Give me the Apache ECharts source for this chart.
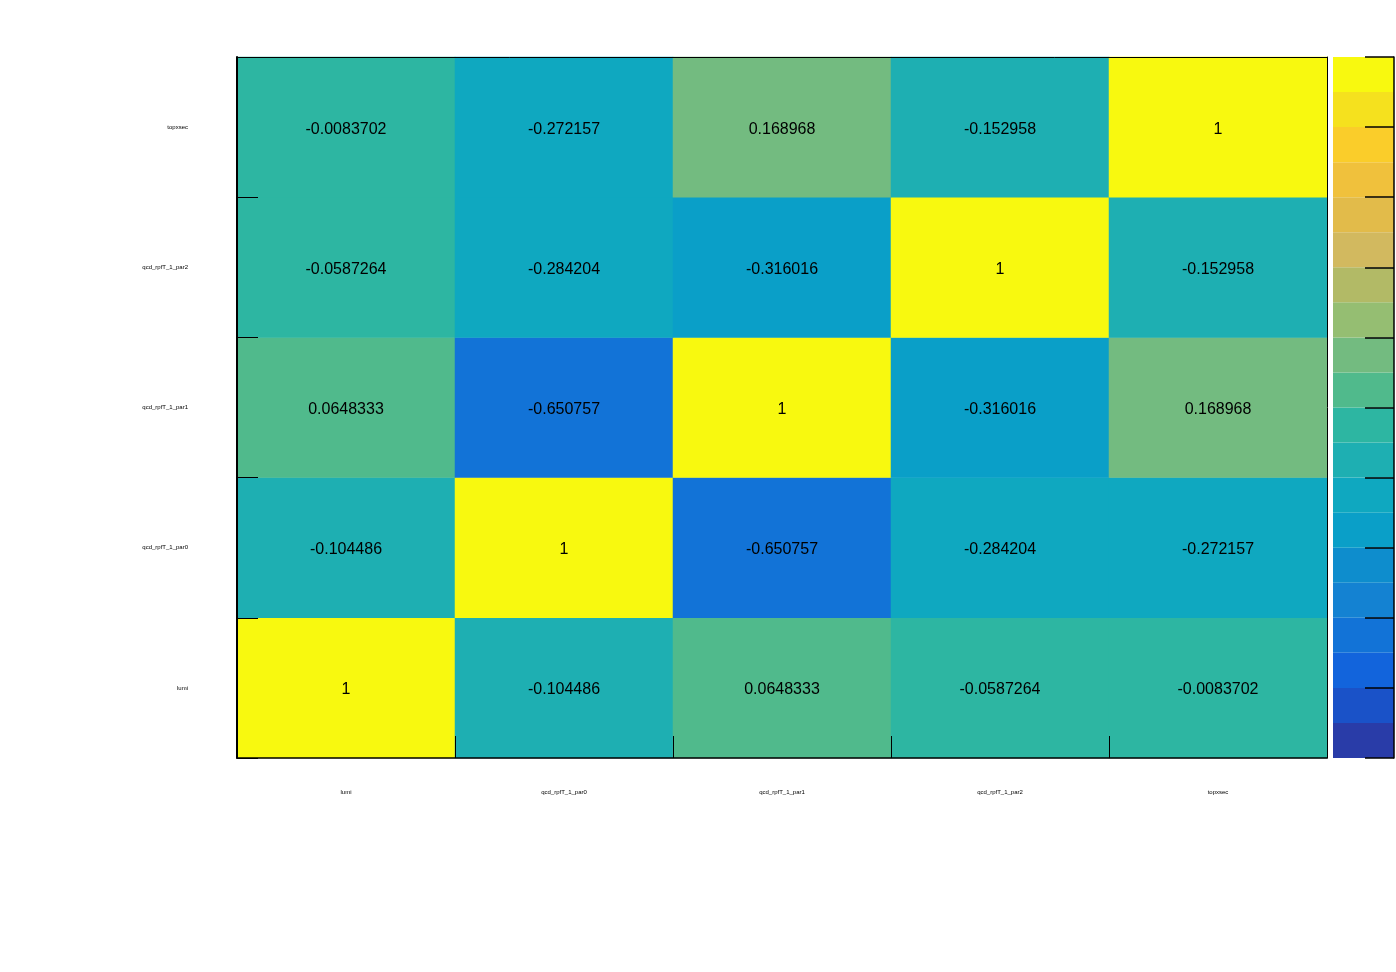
<!DOCTYPE html>
<html>
<head>
<meta charset="utf-8">
<script src="https://cdn.jsdelivr.net/npm/echarts@6/dist/echarts.min.js"></script>
<style>
    html, body { margin: 0; padding: 0; background: #fff; }
    #container { width: 1396px; height: 972px; }
</style>
</head>
<body>
<div id="container"></div>
<script>
// parameter names, same order on both axes (y goes bottom -> top)
const xLabels = ['lumi', 'qcd_rpfT_1_par0', 'qcd_rpfT_1_par1', 'qcd_rpfT_1_par2', 'topxsec'];
const yLabels = ['lumi', 'qcd_rpfT_1_par0', 'qcd_rpfT_1_par1', 'qcd_rpfT_1_par2', 'topxsec'];

// correlation rows, one per y label (bottom row first)
const rowLumi = [1, -0.104486, 0.0648333, -0.0587264, -0.0083702];
const rowPar0 = [-0.104486, 1, -0.650757, -0.284204, -0.272157];
const rowPar1 = [0.0648333, -0.650757, 1, -0.316016, 0.168968];
const rowPar2 = [-0.0587264, -0.284204, -0.316016, 1, -0.152958];
const rowTopxsec = [-0.0083702, -0.272157, 0.168968, -0.152958, 1];
const corrRows = [rowLumi, rowPar0, rowPar1, rowPar2, rowTopxsec];

// colour scale edges (-1 .. 1, 20 bins)
const levels = [-1, -0.9, -0.8, -0.7, -0.6, -0.5, -0.4, -0.3, -0.2, -0.1, 0,
    0.1, 0.2, 0.3, 0.4, 0.5, 0.6, 0.7, 0.8, 0.9, 1];

// kBird-like palette, one colour per bin
const palette = ['#293ca8', '#1a52c8', '#1264dc', '#1273d7', '#1482d2', '#0e8dcd',
    '#0a9fc8', '#0fa8c0', '#1eafb2', '#2db6a2', '#50ba8c', '#73bb80', '#95be72',
    '#b2ba66', '#d2b95f', '#e2bb4a', '#f0c13c', '#facd2a', '#f5e11e', '#f8f90f'];

var dom = document.getElementById('container');
var myChart = echarts.init(dom, null, { renderer: 'canvas' });

let cells = [];
corrRows.forEach((row, y) => {
    row.forEach((v, x) => {
        cells.push([x, y, v]);
    });
});

let pieces = [];
for (let i = 0; i < palette.length; i++) {
    pieces.push({ gte: levels[i], lt: levels[i + 1], color: palette[i] });
}
pieces[pieces.length - 1].lte = levels[levels.length - 1];
delete pieces[pieces.length - 1].lt;

let bins = [];
for (let i = 0; i < palette.length; i++) {
    bins.push([0, levels[i], levels[i + 1], i]);
}

const tinyFont = { fontSize: 6, color: '#000', fontFamily: 'Liberation Sans' };

var option = {
    animation: false,
    backgroundColor: '#fff',
    grid: [
        { left: 237, top: 57, width: 1090, height: 701 },
        { left: 1333, top: 57, width: 61, height: 701 }
    ],
    xAxis: [
        {
            type: 'category', data: xLabels, gridIndex: 0, position: 'bottom', z: 10,
            axisLine: { show: true, lineStyle: { color: '#000', width: 1.5 } },
            axisTick: { show: true, interval: 0, alignWithLabel: false, inside: true, length: 22, lineStyle: { color: '#000', width: 1 } },
            axisLabel: Object.assign({ margin: 31, interval: 0 }, tinyFont),
            splitLine: { show: false }
        },
        {
            type: 'category', data: xLabels, gridIndex: 0, position: 'top', z: 10,
            axisLine: { show: true, lineStyle: { color: '#000', width: 1 } },
            axisTick: { show: false }, axisLabel: { show: false }
        },
        {
            type: 'category', data: [''], gridIndex: 1,
            axisLine: { show: false }, axisTick: { show: false }, axisLabel: { show: false }
        }
    ],
    yAxis: [
        {
            type: 'category', data: yLabels, gridIndex: 0, position: 'left', z: 10,
            axisLine: { show: true, lineStyle: { color: '#000', width: 2 } },
            axisTick: { show: true, interval: 0, alignWithLabel: false, inside: true, length: 21, lineStyle: { color: '#000', width: 1 } },
            axisLabel: Object.assign({ margin: 49, interval: 0 }, tinyFont),
            splitLine: { show: false }
        },
        {
            type: 'category', data: yLabels, gridIndex: 0, position: 'right', z: 10,
            axisLine: { show: true, lineStyle: { color: '#000', width: 1 } },
            axisTick: { show: false }, axisLabel: { show: false }
        },
        {
            type: 'value', gridIndex: 1, position: 'right', z: 10,
            min: -1, max: 1, interval: 0.2,
            axisLine: { show: true, lineStyle: { color: '#000', width: 1.5 } },
            axisTick: { show: true, inside: true, length: 29, lineStyle: { color: '#000', width: 1.5 } },
            axisLabel: { show: false },
            splitLine: { show: false }
        }
    ],
    visualMap: {
        type: 'piecewise',
        show: false,
        seriesIndex: 0,
        dimension: 2,
        pieces: pieces
    },
    series: [
        {
            type: 'heatmap',
            xAxisIndex: 0,
            yAxisIndex: 0,
            data: cells,
            label: {
                show: true,
                color: '#000',
                fontSize: 16,
                fontFamily: 'Liberation Sans',
                offset: [0, 2],
                formatter: (p) => String(p.value[2])
            },
            emphasis: { disabled: true },
            z: 1
        },
        {
            type: 'custom',
            xAxisIndex: 2,
            yAxisIndex: 2,
            data: bins,
            renderItem: (params, api) => {
                let lo = api.coord([api.value(0), api.value(1)]);
                let hi = api.coord([api.value(0), api.value(2)]);
                let w = api.size([1, 0])[0];
                return {
                    type: 'rect',
                    shape: { x: lo[0] - w / 2, y: hi[1], width: w, height: lo[1] - hi[1] },
                    style: { fill: palette[api.value(3)] }
                };
            },
            z: 1
        }
    ]
};

myChart.setOption(option);
window.addEventListener('resize', myChart.resize);
</script>
</body>
</html>
